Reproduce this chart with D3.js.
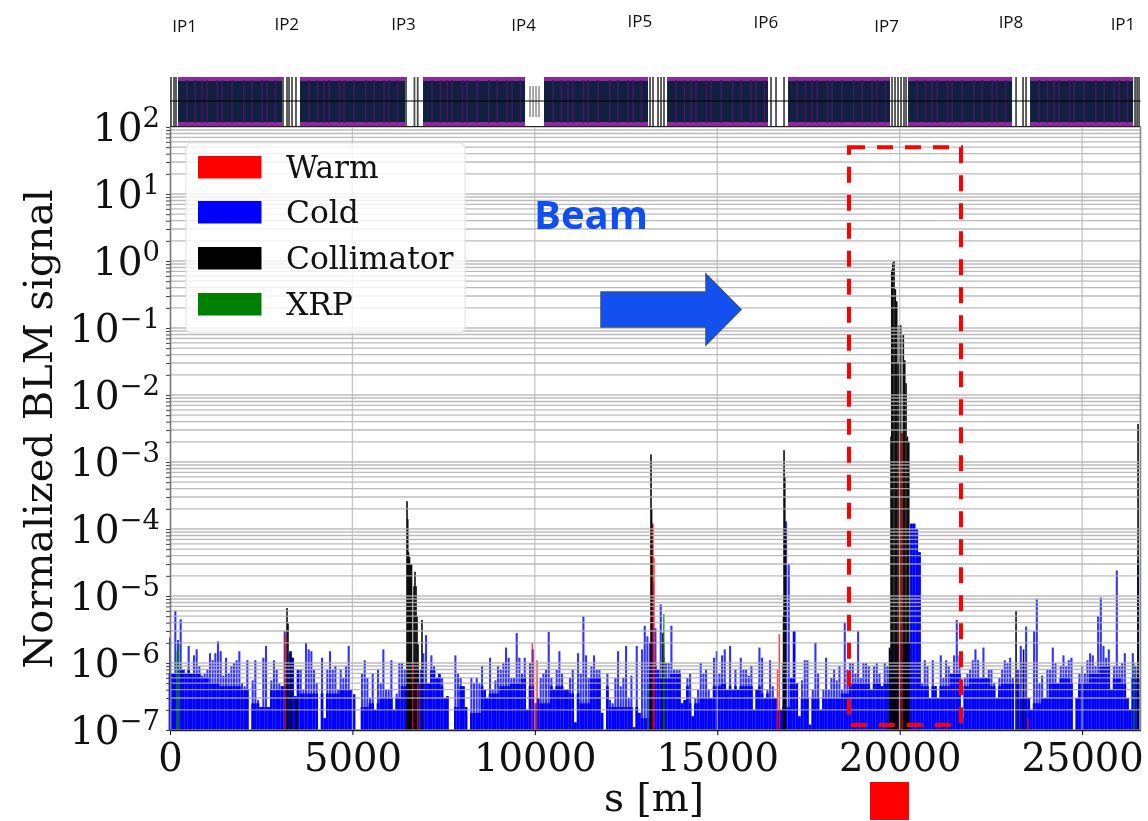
<!DOCTYPE html>
<html><head><meta charset="utf-8">
<script src="https://cdn.jsdelivr.net/npm/d3@7"></script>
<style>html,body{margin:0;padding:0;background:#fff}svg{display:block;filter:blur(0.45px)}</style>
</head><body><svg id="c" width="1148" height="821"></svg>
<script>
const legendNames = ["Warm","Cold","Collimator","XRP"];
const sTicks = [0,5000,10000,15000,20000,25000];
const decades = [-7,-6,-5,-4,-3,-2,-1,0,1,2];
const ipNames = ["IP1","IP2","IP3","IP4","IP5","IP6","IP7","IP8","IP1"];
const ipS = [400,3200,6400,9690,12880,16330,19640,23050,26120];
const coldUnit = 1e-7, coldStep = 73.1, baseStep = 274.1;
// cold BLM: strongest signal per 73 m bin, in units of 1e-7
const coldValues = [
24,7,60,22,45,8,7,18,7,13,16,9,6.5,7,8,14,11,14,21,15,6.5,12,7,9,10,11,15,5,4.5,11,0,5.5,11,2.8,2.2,12,18,2.2,5.5,11,8,5,4.5,30,10,15,12,3.2,8,8,4,20,16,15,8,5,0,12,1.5,8,15,8,9,4,8,6,9,18,4,3.4,0,0,7,11,
6,3,7,2,8,5,16,4,4,11,2,3.5,10,10,8,5,5,8,8,8,8,14,26,5,13,9,6,7,6,3,3.2,0,0,13,7,6,4.5,2.2,0,6,5,6,5,9,4,3,12,4,5.5,9,8,10,17,12,6,6,28,12,7,12,2,10,16,2.5,3,6,7,8,29,6,4,8,15,7,4,
4,6,8,1.3,14,7,50,13,6,9,13,8,8,1.8,0,7,2.8,2.5,6,15,4.5,6,18,3,6.5,1.1,18,1.8,16,36,25,20,160,33,8,75,20,10,10,36,8,8,8,2.5,2.8,6,7,1.6,3,4,10,7,8,4,3,12,15,7,13,16,4,18,4,8,4,12,8,8,6.5,9,2,4,17,12,3,
4,11,4.5,3,2,2,10,1300,300,6,30,5,1.6,5.5,11,11,1.2,4,20,7,2,4,12,4,6,8,5.5,9,4,40,8,10,10,7,30,6,10,10,9,4,9,10,7,4.5,10,9,16,20,20,20,20,20,20,20,1200,1200,1000,450,5,11,9,3,11,4.5,3,13,6,11,9,
7,13,44,13,1.5,6,7,8,11,16,11,6,17,6,8,8,5,3,6,8,11,10,12,6,1,8,18,10,35,3,2,30,90,5,6.5,3,8,8,17,10,5,9,13,9,11,12,0,3,7,9,7,11,14,13,9,50,95,18,12,16,4,9,240,9,10,14,3,2,14,9,340];
// cold BLM: level of the densely filled lower band per 274 m bin, in units of 1e-7
const coldBase = [
7,8,7,6,5,4.5,4.5,4,2.5,2.2,4,4.5,14,3.5,3.5,3.5,3.5,4,4,2.2,
2.5,3,3,4.5,5,5,8,4.5,2.2,4.5,1.8,4.5,3.5,4.5,5,6,4.5,2.5,4.5,4.5,
3.5,2.5,6,4.5,2.2,2.2,2.2,1.5,9,6,7,4.5,2.5,3,4.5,5,4.5,4.5,4.5,3.5,
3,2.2,400,3,3,3,3,3.5,5,5,5,5,7,20,1500,4.5,4.5,4.5,
7,4.5,6,6,4.5,5,5,3,2.5,3,5,6,5,5,7,9,6,5,6];
const collimatorS = [3207,3234,3316,3453,3481,6496,6516,6537,6565,6592,6620,6688,6715,6743,6770,6798,6907,13184,13200,13215,13510,13530,16816,16830,16850,16865,19721,19762,19782,19809,19845,19881,19919,19955,19990,20028,20064,20100,20138,20174,20211,20249,23189,23395,26533];
const collimatorV = [6.6e-6,3.9e-6,1.5e-6,3e-7,3e-7,2.6e-4,1.4e-4,4.5e-5,3.8e-5,2.9e-5,3e-5,1.4e-5,2.3e-5,1.4e-5,5e-6,1.9e-6,4.4e-6,1.3e-3,2e-4,1.2e-4,2.8e-6,1.2e-6,5e-6,1.5e-3,6e-4,1e-4,1.7e-6,2.4e-3,0.73,0.95,1.0,0.38,0.25,0.03,0.11,0.11,2.7e-3,0.081,0.033,0.015,2.4e-3,2e-3,6e-6,1.6e-6,3.7e-3];
const warmS = [3152,6650,6790,9930,10060,13239,13266,16652,16700,19990,20064,23518];
const warmV = [2.7e-6,1e-6,5e-7,2e-6,1.1e-6,1.2e-4,3.7e-5,8e-7,2.7e-6,2e-3,2.7e-3,1.5e-7];
const xrpS = [200,233,13100,13532,26426];
const xrpV = [1.5e-6,2e-6,5e-7,5.4e-6,1e-6];
// machine layout strip
const arcStart = [219,3563,6935,10251,13623,16939,20229,23573];
const arcEnd   = [3070,6441,9731,13102,16391,19735,23079,26396];
const arcStripes = [228,457,639,775,1060,1188,1462,1782,2010,2284,2421,2650];
const insertionS = [27,110,164,3097,3207,3262,3344,3453,6469,6700,6790,13157,13239,13376,13458,13540,16473,16610,16830,19790,19872,19954,20036,20118,20174,23189,23381,23463,26451,26506,26560];
const insertionShortS = [9868,9950,10032,10114];
// annotation box around IP7, in chart units
const boxS = [18610,21680], boxV = [1.19e-7,50];

// ---- scales ----
const svg = d3.select("#c");
const x = d3.scaleLinear().domain([0,26600]).range([170,1140.5]);
const y = d3.scaleLog().domain([1e-7,1e2]).range([730,127]);
const base = y(1e-7);
const serif = "'DejaVu Serif',serif", sans = "'Open Sans','Noto Sans',sans-serif";
const palette = {Warm:"#ff0000",Cold:"#0000ff",Collimator:"#000000",XRP:"#008000"};

function bars(rows,color,w,op){
  svg.append("g").attr("fill",color).attr("opacity",op).selectAll("rect").data(rows).join("rect")
    .attr("x",d=>x(d[0])-w/2).attr("width",w)
    .attr("y",d=>y(d[1])).attr("height",d=>base-y(d[1]));
}
// ---- bars ----
const coldRows = coldValues.map((v,i)=>[i*coldStep,v*coldUnit]).filter(d=>d[1]>0);
const solidRows = coldRows.map(d=>[d[0],Math.min(d[1],coldBase[Math.min(coldBase.length-1,Math.floor(d[0]/baseStep))]*coldUnit)]);
bars(solidRows,palette.Cold,2.7,1);
bars(coldRows,palette.Cold,2.1,0.8);
const zip=(a,b)=>a.map((s,i)=>[s,b[i]]);
bars(zip(collimatorS,collimatorV),palette.Collimator,1.6,0.95);
bars(zip(warmS,warmV),palette.Warm,1.5,0.75);
bars(zip(xrpS,xrpV),palette.XRP,1.7,0.75);

// ---- grid ----
const minors = decades.slice(0,-1).flatMap(e=>d3.range(1,10).map(m=>m*Math.pow(10,e))).concat([1e2]);
svg.append("g").attr("stroke","#b0b0b0").attr("stroke-width",1.4).attr("opacity",0.85)
  .selectAll("line").data(minors).join("line")
  .attr("x1",x(0)).attr("x2",x.range()[1]).attr("y1",d=>y(d)).attr("y2",d=>y(d));
svg.append("g").attr("stroke","#b8b8b8").attr("stroke-width",1.3).attr("opacity",0.8)
  .selectAll("line").data(sTicks.slice(1)).join("line")
  .attr("x1",d=>x(d)).attr("x2",d=>x(d)).attr("y1",127).attr("y2",base);

// ---- layout strip ----
const strip = svg.append("g");
const T=77,B=126,M=101;
insertionS.forEach(s=>strip.append("rect").attr("x",x(s)-0.9).attr("width",1.8).attr("y",T).attr("height",B-T).attr("fill","#222").attr("opacity",0.8));
insertionShortS.forEach(s=>strip.append("rect").attr("x",x(s)-0.6).attr("width",1.2).attr("y",T+9).attr("height",B-T-18).attr("fill","#333").attr("opacity",0.7));
arcStart.forEach((a,i)=>{
  const x0=x(a),x1=x(arcEnd[i]);
  strip.append("rect").attr("x",x0).attr("width",x1-x0).attr("y",T).attr("height",B-T).attr("fill","#10203f");
  strip.append("rect").attr("x",x0).attr("width",x1-x0).attr("y",T).attr("height",4).attr("fill","#8f2a9c");
  strip.append("rect").attr("x",x0).attr("width",x1-x0).attr("y",B-4).attr("height",4).attr("fill","#8f2a9c");
  arcStripes.forEach(o=>strip.append("rect").attr("x",x(a+o)).attr("width",1.5).attr("y",T+3).attr("height",B-T-6).attr("fill","#4a1568"));
});
strip.append("line").attr("x1",x(0)).attr("x2",x.range()[1]).attr("y1",M).attr("y2",M).attr("stroke","#000").attr("stroke-width",1.2);

// ---- axes ----
const gx = svg.append("g").attr("transform",`translate(0,${base})`)
  .call(d3.axisBottom(x).tickValues(sTicks).tickFormat(d3.format("d")).tickSize(5).tickSizeOuter(0));
gx.select(".domain").attr("stroke","#222").attr("stroke-width",1.5);
gx.selectAll("text").attr("font-family",serif).attr("font-size",38.5).attr("fill","#111").attr("y",6).attr("dy","0.92em");
const gy = svg.append("g").attr("transform",`translate(${x(0)},0)`)
  .call(d3.axisLeft(y).tickValues(minors).tickFormat("").tickSize(4).tickSizeOuter(0));
gy.select(".domain").attr("stroke","#777").attr("stroke-width",1.6);
gy.selectAll(".tick line").attr("stroke","#444");
const labels = svg.append("g").attr("font-family",serif).attr("fill","#111").attr("text-anchor","end");
decades.forEach(e=>{
  const t = labels.append("text").attr("x",160).attr("y",y(Math.pow(10,e))+14).attr("font-size",39).text("10");
  t.append("tspan").attr("dy",-14).attr("font-size",27.5).text(e<0?"\u2212"+(-e):String(e));
});
svg.append("line").attr("x1",x.range()[1]).attr("x2",x.range()[1]).attr("y1",127).attr("y2",base).attr("stroke","#888").attr("stroke-width",1.6);
svg.append("line").attr("x1",x(0)).attr("x2",x.range()[1]).attr("y1",126.5).attr("y2",126.5).attr("stroke","#222").attr("stroke-width",1.2);

svg.append("text").attr("x",654).attr("y",811).attr("text-anchor","middle").attr("font-family",serif).attr("font-size",39).attr("fill","#111").text("s [m]");
svg.append("text").attr("transform","translate(52,429) rotate(-90)").attr("text-anchor","middle").attr("font-family",serif).attr("font-size",40).attr("fill","#111").text("Normalized BLM signal");

// ---- IP labels ----
const ipBaseline = [32,30,30,31,27,28,32,28,30];
svg.append("g").attr("font-family",sans).attr("font-size",17).attr("fill","#111").attr("text-anchor","middle")
  .selectAll("text").data(ipNames).join("text")
  .attr("x",(d,i)=>x(ipS[i])).attr("y",(d,i)=>ipBaseline[i]).text(d=>d);

// ---- legend ----
const lg = svg.append("g");
lg.append("rect").attr("x",186).attr("y",143).attr("width",279).attr("height",190).attr("rx",6)
  .attr("fill","#fff").attr("fill-opacity",0.8).attr("stroke","#e4e4e4").attr("stroke-width",1.2);
const legendBase = [178,223,269,315];
legendNames.forEach((n,i)=>{
  lg.append("rect").attr("x",198).attr("y",legendBase[i]-22).attr("width",63.5).attr("height",22.5).attr("fill",palette[n]);
  lg.append("text").attr("x",286).attr("y",legendBase[i]).attr("font-family",serif).attr("font-size",31.3).attr("fill","#111").text(n);
});

// ---- annotations ----
svg.append("rect").attr("x",x(boxS[0])).attr("y",y(boxV[1])).attr("width",x(boxS[1])-x(boxS[0])).attr("height",y(boxV[0])-y(boxV[1]))
  .attr("fill","none").attr("stroke","#ff0000").attr("stroke-width",4).attr("stroke-dasharray","16,12");
svg.append("text").attr("x",591).attr("y",229).attr("text-anchor","middle").attr("font-family",sans).attr("font-weight",700).attr("font-size",40).attr("fill","#0f4ff0").text("Beam");
svg.append("path").attr("d",d3.line()([[601,292],[706,292],[706,274],[741,309.5],[706,345],[706,327],[601,327]])+"Z")
  .attr("fill","#1450f0").attr("stroke","#2f528f").attr("stroke-width",1.5);
svg.append("rect").attr("x",870).attr("y",782).attr("width",39).attr("height",38).attr("fill","#ff0000");
</script></body></html>
